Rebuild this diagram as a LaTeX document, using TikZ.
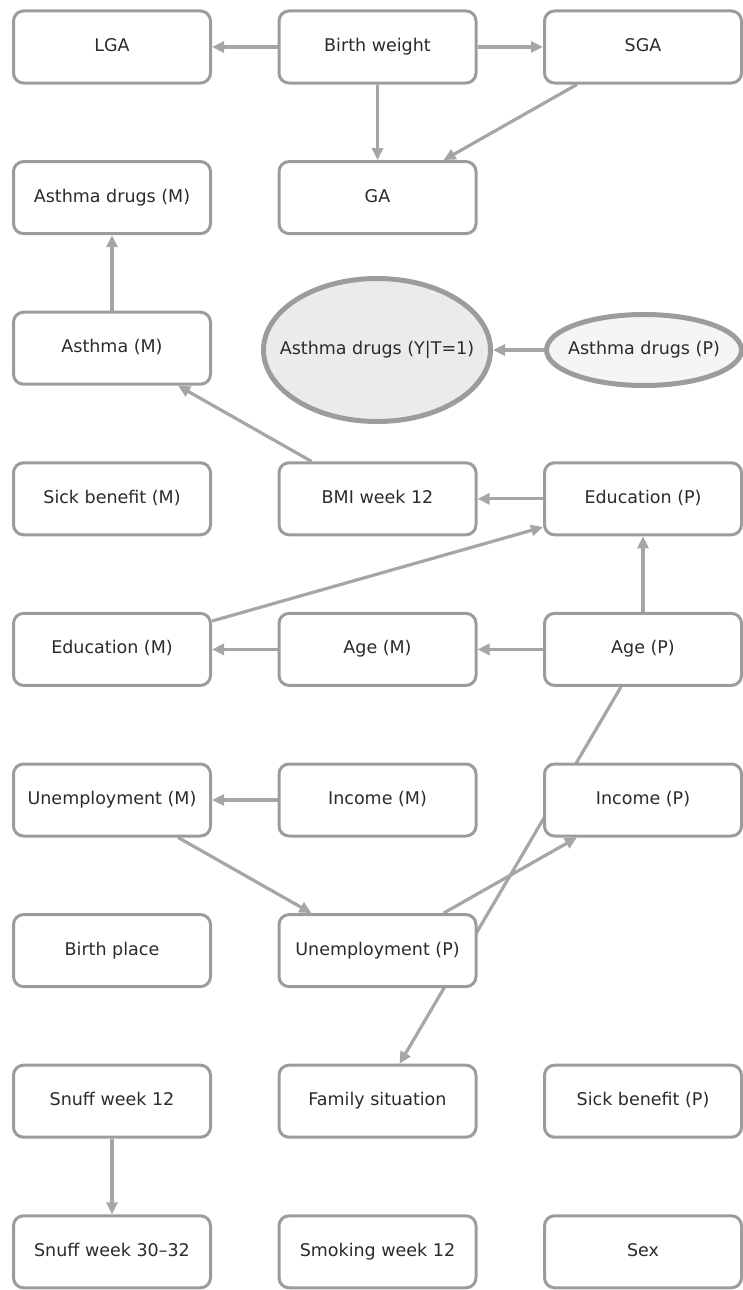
\documentclass[tikz,border=0pt]{standalone}
\usepackage{fontspec}
\setmainfont{DejaVu Sans}
\usetikzlibrary{arrows.meta,positioning,shapes.geometric,backgrounds}
\definecolor{boxgray}{HTML}{9C9C9C}
\definecolor{linkgray}{HTML}{A6A6A6}
\definecolor{inkgray}{HTML}{2B2B2B}
\definecolor{fillgray}{HTML}{EBEBEB}
\definecolor{palegray}{HTML}{F5F5F5}

\begin{document}
\begin{tikzpicture}[x=1pt,y=-1pt,
 font=\fontsize{17.5}{20}\selectfont,text=inkgray,
 var/.style={draw=boxgray,line width=3pt,rounded corners=10pt,fill=white,minimum width=197pt,minimum height=72pt,inner sep=0pt,text height=13pt,text depth=4pt},
 outcome/.style={ellipse,draw=boxgray,line width=5pt,inner sep=0pt,text height=13pt,text depth=4pt},
 link/.style={draw=linkgray,line width=3.2pt,-{Triangle[length=12pt,width=11pt]}}]
\useasboundingbox (0,0) rectangle (742,1290);
\node[var] (lga) at (112,47) {LGA};
\node[var] (bw) at (377.5,47) {Birth weight};
\node[var] (sga) at (643,47) {SGA};
\node[var] (adm) at (112,197.6) {Asthma drugs (M)};
\node[var] (ga) at (377.5,197.6) {GA};
\node[var] (am) at (112,348.2) {Asthma (M)};
\node[outcome,fill=fillgray,minimum width=227pt,minimum height=143pt] (ady) at (377,350) {\makebox[0pt]{Asthma drugs (Y|T=1)}};
\node[outcome,fill=palegray,minimum width=195pt,minimum height=71pt] (adp) at (644,350) {\makebox[0pt]{Asthma drugs (P)}};
\node[var] (sbm) at (112,498.8) {Sick benefit (M)};
\node[var] (bmi) at (377.5,498.8) {BMI week 12};
\node[var] (edp) at (643,498.8) {Education (P)};
\node[var] (edm) at (112,649.4) {Education (M)};
\node[var] (agem) at (377.5,649.4) {Age (M)};
\node[var] (agep) at (643,649.4) {Age (P)};
\node[var] (unm) at (112,800) {Unemployment (M)};
\node[var] (incm) at (377.5,800) {Income (M)};
\node[var] (incp) at (643,800) {Income (P)};
\node[var] (bp) at (112,950.6) {Birth place};
\node[var] (unp) at (377.5,950.6) {Unemployment (P)};
\node[var] (sn12) at (112,1101.2) {Snuff week 12};
\node[var] (fam) at (377.5,1101.2) {Family situation};
\node[var] (sbp) at (643,1101.2) {Sick benefit (P)};
\node[var] (sn30) at (112,1251.8) {Snuff week 30--32};
\node[var] (smk) at (377.5,1251.8) {Smoking week 12};
\node[var] (sex) at (643,1251.8) {Sex};
\begin{scope}[on background layer]
\draw[link] (bw) -- (lga);
\draw[link] (bw) -- (sga);
\draw[link] (bw) -- (ga);
\draw[link] (sga) -- (ga);
\draw[link] (am) -- (adm);
\draw[link] (bmi) -- (am);
\draw[link] (adp) -- (ady);
\draw[link] (edp) -- (bmi);
\draw[link] (edm) -- (edp);
\draw[link] (agep) -- (edp);
\draw[link] (agep) -- (agem);
\draw[link] (agem) -- (edm);
\draw[link] (incm) -- (unm);
\draw[link] (unm) -- (unp);
\draw[link] (unp) -- (incp);
\draw[link] (agep) -- (fam);
\draw[link] (sn12) -- (sn30);
\end{scope}
\end{tikzpicture}
\end{document}
